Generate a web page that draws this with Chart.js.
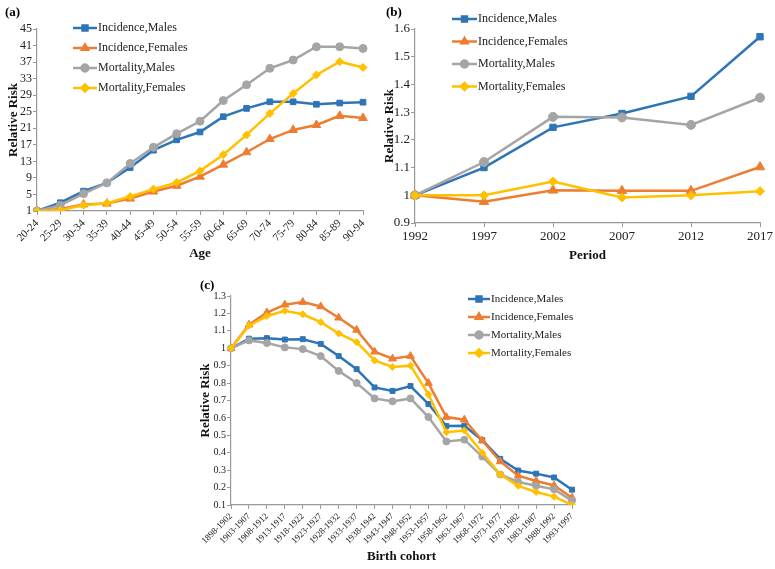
<!DOCTYPE html>
<html>
<head>
<meta charset="utf-8">
<script src="https://cdn.jsdelivr.net/npm/chart.js@4/dist/chart.umd.min.js"></script>
<style>
  body { margin: 0; background: #fff; }
  .box { position: absolute; }
</style>
</head>
<body>
<div class="box" style="left:0;top:0;width:380px;height:261px"><canvas id="chartA"></canvas></div>
<div class="box" style="left:378px;top:0;width:397px;height:263px"><canvas id="chartB"></canvas></div>
<div class="box" style="left:180px;top:280px;width:420px;height:284px"><canvas id="chartC"></canvas></div>
<script>
const seriesNames = ['Incidence,Males', 'Incidence,Females', 'Mortality,Males', 'Mortality,Females'];

// (a) Age effect
const ageGroups = ['20-24','25-29','30-34','35-39','40-44','45-49','50-54','55-59','60-64','65-69','70-74','75-79','80-84','85-89','90-94'];
const ageIncMales   = [1, 3.0, 5.8, 7.8, 11.5, 15.7, 18.2, 20.1, 23.8, 25.8, 27.4, 27.4, 26.8, 27.1, 27.3];
const ageIncFemales = [1, 1.5, 2.6, 2.8, 4.0, 5.7, 7.1, 9.3, 12.2, 15.2, 18.4, 20.6, 21.8, 24.0, 23.5];
const ageMortMales  = [1, 2.4, 5.2, 7.8, 12.5, 16.4, 19.7, 22.7, 27.7, 31.5, 35.5, 37.5, 40.7, 40.7, 40.3];
const ageMortFemales= [1, 1.2, 2.4, 2.9, 4.5, 6.3, 7.9, 10.7, 14.6, 19.4, 24.6, 29.4, 33.9, 37.1, 35.7];

// (b) Period effect
const periods = ['1992','1997','2002','2007','2012','2017'];
const perIncMales   = [1, 1.100, 1.245, 1.295, 1.357, 1.572];
const perIncFemales = [1, 0.977, 1.018, 1.016, 1.016, 1.102];
const perMortMales  = [1, 1.120, 1.283, 1.281, 1.254, 1.352];
const perMortFemales= [1, 1.000, 1.050, 0.992, 1.000, 1.015];

// (c) Birth cohort effect
const cohorts = ['1898-1902','1903-1907','1908-1912','1913-1917','1918-1922','1923-1927','1928-1932','1933-1937','1938-1942','1943-1947','1948-1952','1953-1957','1958-1962','1963-1967','1968-1972','1973-1977','1978-1982','1983-1987','1988-1992','1993-1997'];
const cohIncMales   = [1.0, 1.055, 1.058, 1.05, 1.052, 1.025, 0.955, 0.88, 0.775, 0.755, 0.783, 0.68, 0.553, 0.555, 0.472, 0.365, 0.298, 0.28, 0.258, 0.188];
const cohIncFemales = [1.0, 1.135, 1.205, 1.25, 1.265, 1.24, 1.175, 1.105, 0.98, 0.94, 0.955, 0.8, 0.605, 0.59, 0.47, 0.35, 0.268, 0.238, 0.212, 0.142];
const cohMortMales  = [1.0, 1.045, 1.03, 1.005, 0.995, 0.955, 0.87, 0.8, 0.712, 0.695, 0.712, 0.605, 0.465, 0.475, 0.378, 0.275, 0.232, 0.21, 0.19, 0.125];
const cohMortFemales= [1.0, 1.13, 1.185, 1.215, 1.195, 1.15, 1.085, 1.035, 0.93, 0.893, 0.9, 0.735, 0.518, 0.528, 0.4, 0.275, 0.21, 0.175, 0.148, 0.1];

const colors = ['#2e75b6', '#ed7d31', '#a5a5a5', '#ffc000'];
const markers = ['rect', 'triangle', 'circle', 'rectRot'];
const serif = '"Liberation Serif", "Times New Roman", serif';

function makeDatasets(arrs, radius) {
  return arrs.map((d, i) => ({
    label: seriesNames[i],
    data: d,
    borderColor: colors[i],
    backgroundColor: colors[i],
    pointStyle: markers[i],
    pointRadius: i === 1 ? radius + 1 : radius,
    borderWidth: 2.5,
    pointBorderWidth: 1,
    tension: 0
  })).reverse(); // draw Incidence,Males on top
}

// legend and panel letter drawn inside the canvas
const overlay = {
  id: 'overlay',
  afterDraw(chart, args, opts) {
    const ctx = chart.ctx;
    ctx.save();
    ctx.fillStyle = '#000';
    ctx.font = 'bold 13px ' + serif;
    ctx.textBaseline = 'middle';
    ctx.fillText(opts.letter, opts.letterX, opts.letterY);
    ctx.font = opts.fontSize + 'px ' + serif;
    const sets = chart.data.datasets.slice().reverse();
    sets.forEach((ds, i) => {
      const y = opts.y + i * opts.dy;
      ctx.strokeStyle = ds.borderColor;
      ctx.lineWidth = 2.5;
      ctx.beginPath();
      ctx.moveTo(opts.x, y);
      ctx.lineTo(opts.x + opts.len, y);
      ctx.stroke();
      ctx.fillStyle = ds.backgroundColor;
      Chart.helpers.drawPoint(ctx, { pointStyle: ds.pointStyle, radius: 3.5, rotation: 0, borderWidth: 1 },
        opts.x + opts.len / 2, y);
      ctx.fillStyle = '#222';
      ctx.fillText(ds.label, opts.x + opts.len + 1, y);
    });
    ctx.restore();
  }
};

function axisOpts(title, fontSize, fixed, rotate, isX, min, max, step) {
  const o = {
    grid: { drawOnChartArea: false, drawTicks: true, tickLength: 4, color: '#999' },
    border: { color: '#999', width: 1.2 },
    ticks: { color: '#222', font: { family: serif, size: fontSize }, padding: 2, autoSkip: false },
    title: { display: true, text: title, color: '#111', font: { family: serif, size: 13, weight: 'bold' }, padding: { top: 2, bottom: 0 } },
    afterFit(scale) { if (isX) scale.height = fixed; else scale.width = fixed; }
  };
  if (isX) {
    o.ticks.maxRotation = rotate;
    o.ticks.minRotation = rotate;
  } else {
    o.min = min; o.max = max;
    o.ticks.stepSize = step;
    o.ticks.padding = 1;
    o.ticks.callback = v => String(Math.round(v * 10) / 10);
  }
  return o;
}

function build(id, labels, arrs, cfg) {
  new Chart(document.getElementById(id), {
    type: 'line',
    data: { labels: labels, datasets: makeDatasets(arrs, cfg.radius) },
    plugins: [overlay],
    options: {
      responsive: true,
      maintainAspectRatio: false,
      animation: false,
      layout: { padding: cfg.padding },
      plugins: {
        legend: { display: false },
        tooltip: { enabled: false },
        overlay: cfg.legend
      },
      scales: {
        x: axisOpts(cfg.xTitle, cfg.xFont, cfg.xHeight, cfg.rotate, true),
        y: axisOpts('Relative Risk', cfg.yFont, cfg.yWidth, 0, false, cfg.min, cfg.max, cfg.step)
      }
    }
  });
}

build('chartA', ageGroups, [ageIncMales, ageIncFemales, ageMortMales, ageMortFemales], {
  radius: 4, padding: { top: 29, right: 17, left: 4, bottom: 0 },
  xTitle: 'Age', xFont: 11, xHeight: 50, rotate: 45, yFont: 12, yWidth: 33,
  min: 1, max: 45, step: 4,
  legend: { letter: '(a)', letterX: 5, letterY: 13, x: 73, y: 28, dy: 20, len: 24, fontSize: 12 }
});

build('chartB', periods, [perIncMales, perIncFemales, perMortMales, perMortFemales], {
  radius: 4.5, padding: { top: 29, right: 15, left: 2, bottom: 0 },
  xTitle: 'Period', xFont: 13, xHeight: 40, rotate: 0, yFont: 13, yWidth: 35,
  min: 0.9, max: 1.6, step: 0.1,
  legend: { letter: '(b)', letterX: 8, letterY: 13, x: 74, y: 19, dy: 22.5, len: 25, fontSize: 12 }
});

build('chartC', cohorts, [cohIncMales, cohIncFemales, cohMortMales, cohMortFemales], {
  radius: 3.5, padding: { top: 16, right: 28, left: 16, bottom: 0 },
  xTitle: 'Birth cohort', xFont: 9, xHeight: 59, rotate: 45, yFont: 10, yWidth: 35,
  min: 0.1, max: 1.3, step: 0.1,
  legend: { letter: '(c)', letterX: 20, letterY: 6, x: 288, y: 19, dy: 18, len: 22, fontSize: 11 }
});
</script>
</body>
</html>
